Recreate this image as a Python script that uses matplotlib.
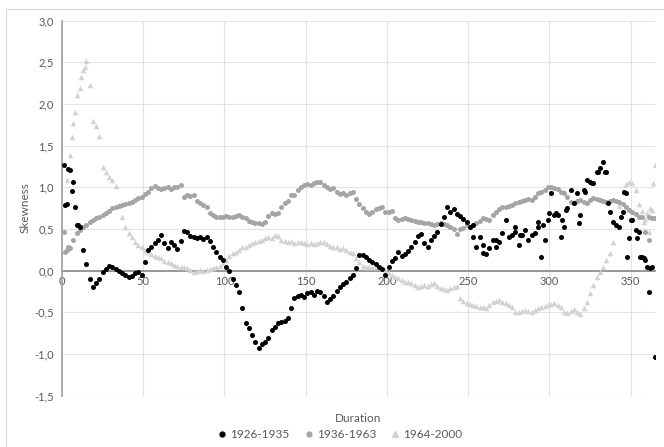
import matplotlib
matplotlib.use("Agg")
import matplotlib.pyplot as plt
from matplotlib.patches import Rectangle
from matplotlib.lines import Line2D

plt.rcParams['font.family'] = ['Lato', 'DejaVu Sans']

# ---------------- data ----------------
days = list(range(1, 366, 2))

s1926_1935 = [
    1.27, 0.80, 1.21, 1.07, 0.55, 0.52, 0.25, 0.08, -0.10, -0.20,
    -0.15, -0.10, -0.02, 0.02, 0.06, 0.05, 0.02, 0.00, -0.03, -0.05,
    -0.08, -0.06, -0.03, -0.01, -0.05, 0.10, 0.25, 0.29, 0.33, 0.37,
    0.43, 0.33, 0.27, 0.35, 0.31, 0.26, 0.36, 0.48, 0.46, 0.42,
    0.40, 0.39, 0.41, 0.38, 0.40, 0.36, 0.29, 0.22, 0.17, 0.13,
    0.05, 0.00, -0.10, -0.17, -0.25, -0.45, -0.63, -0.69, -0.77, -0.85,
    -0.93, -0.88, -0.85, -0.81, -0.71, -0.68, -0.63, -0.62, -0.60, -0.57,
    -0.45, -0.33, -0.30, -0.29, -0.31, -0.27, -0.26, -0.29, -0.24, -0.26,
    -0.30, -0.37, -0.34, -0.30, -0.24, -0.20, -0.16, -0.13, -0.09, -0.05,
    0.03, 0.19, 0.19, 0.16, 0.13, 0.10, 0.08, 0.05, 0.02, -0.05,
    0.05, 0.12, 0.15, 0.22, 0.18, 0.20, 0.24, 0.28, 0.35, 0.42,
    0.44, 0.33, 0.28, 0.37, 0.42, 0.47, 0.56, 0.65, 0.77, 0.70,
    0.74, 0.68, 0.66, 0.62, 0.58, 0.53, 0.40, 0.29, 0.41, 0.31,
    0.20, 0.27, 0.37, 0.29, 0.35, 0.45, 0.61, 0.41, 0.43, 0.53,
    0.31, 0.43, 0.49, 0.37, 0.43, 0.45, 0.59, 0.17, 0.37, 0.61,
    0.93, 0.67, 0.67, 0.41, 0.53, 0.75, 0.97, 0.81, 0.93, 0.67,
    0.97, 1.09, 1.07, 1.05, 1.19, 1.23, 1.31, 1.19, 0.71, 0.58,
    0.55, 0.53, 0.71, 0.93, 0.39, 0.61, 0.49, 0.47, 0.17, 0.13,
    -0.25, 0.05, -1.03,
]
extra_days_1926 = [2, 4, 6, 8, 10, 253, 259, 267, 279, 282, 293, 296, 300, 304,
                   308, 310, 318, 322, 326, 330, 334, 336, 344, 346, 348, 350,
                   354, 356, 358, 360, 362]
extra_vals_1926 = [0.79, 1.22, 0.96, 0.76, 0.55, 0.55, 0.21, 0.37, 0.47, 0.43,
                   0.53, 0.55, 0.69, 0.69, 0.61, 0.73, 0.57, 0.95, 1.05, 1.19,
                   1.19, 0.81, 0.65, 0.95, 0.17, 0.61, 0.39, 0.17, 0.15, 0.05,
                   0.03]

s1936_1963 = [
    0.47, 0.25, 0.27, 0.37, 0.45, 0.49, 0.53, 0.55, 0.58, 0.61,
    0.63, 0.65, 0.67, 0.69, 0.72, 0.75, 0.76, 0.78, 0.79, 0.80,
    0.81, 0.83, 0.85, 0.87, 0.89, 0.92, 0.95, 0.99, 1.02, 0.99,
    0.98, 0.99, 1.01, 0.98, 1.00, 1.01, 1.03, 0.89, 0.91, 0.90,
    0.91, 0.84, 0.81, 0.79, 0.77, 0.69, 0.67, 0.64, 0.65, 0.64,
    0.66, 0.64, 0.65, 0.66, 0.67, 0.64, 0.63, 0.60, 0.58, 0.57,
    0.57, 0.56, 0.59, 0.66, 0.69, 0.68, 0.69, 0.77, 0.81, 0.84,
    0.91, 0.91, 0.97, 1.00, 1.03, 1.04, 1.03, 1.05, 1.06, 1.07,
    1.03, 1.01, 0.98, 0.99, 0.95, 0.92, 0.93, 0.91, 0.93, 0.95,
    0.86, 0.80, 0.75, 0.70, 0.68, 0.71, 0.74, 0.75, 0.76, 0.71,
    0.71, 0.72, 0.63, 0.61, 0.62, 0.63, 0.62, 0.61, 0.60, 0.59,
    0.59, 0.57, 0.57, 0.56, 0.55, 0.56, 0.57, 0.56, 0.55, 0.53,
    0.50, 0.44, 0.50, 0.51, 0.55, 0.53, 0.55, 0.57, 0.60, 0.63,
    0.62, 0.61, 0.67, 0.70, 0.74, 0.76, 0.77, 0.78, 0.79, 0.81,
    0.83, 0.84, 0.85, 0.86, 0.85, 0.89, 0.93, 0.94, 0.97, 1.00,
    1.00, 0.99, 0.98, 0.95, 0.93, 0.88, 0.83, 0.81, 0.84, 0.85,
    0.82, 0.81, 0.85, 0.87, 0.86, 0.85, 0.84, 0.83, 0.84, 0.85,
    0.84, 0.83, 0.80, 0.77, 0.73, 0.71, 0.68, 0.65, 0.64, 0.47,
    0.65, 0.63, 0.63,
]
extra_days_1936 = [2, 4, 361]
extra_vals_1936 = [0.23, 0.29, 0.37]

s1964_2000 = [
    0.79, 1.09, 1.39, 1.77, 2.11, 2.19, 2.41, 2.52, 2.23, 1.80,
    1.74, 1.62, 1.25, 1.19, 1.13, 1.09, 1.02, 0.79, 0.64, 0.53,
    0.45, 0.40, 0.35, 0.31, 0.28, 0.25, 0.22, 0.20, 0.18, 0.16,
    0.15, 0.12, 0.11, 0.09, 0.07, 0.06, 0.05, 0.04, 0.03, 0.01,
    -0.01, 0.00, 0.01, 0.00, 0.01, 0.02, 0.03, 0.04, 0.06, 0.09,
    0.13, 0.18, 0.21, 0.23, 0.25, 0.28, 0.29, 0.31, 0.33, 0.35,
    0.36, 0.37, 0.39, 0.40, 0.39, 0.43, 0.42, 0.37, 0.36, 0.35,
    0.36, 0.33, 0.35, 0.34, 0.33, 0.32, 0.33, 0.32, 0.33, 0.35,
    0.34, 0.32, 0.30, 0.28, 0.28, 0.26, 0.27, 0.25, 0.23, 0.21,
    0.15, 0.10, 0.06, 0.04, 0.05, 0.05, 0.04, 0.05, 0.03, 0.01,
    -0.03, -0.05, -0.08, -0.09, -0.11, -0.13, -0.14, -0.15, -0.17, -0.19,
    -0.18, -0.17, -0.18, -0.16, -0.15, -0.18, -0.21, -0.22, -0.23, -0.21,
    -0.19, -0.18, -0.33, -0.36, -0.39, -0.40, -0.41, -0.42, -0.43, -0.44,
    -0.45, -0.41, -0.37, -0.36, -0.35, -0.37, -0.39, -0.41, -0.43, -0.50,
    -0.49, -0.48, -0.47, -0.48, -0.49, -0.47, -0.45, -0.44, -0.42, -0.41,
    -0.40, -0.39, -0.41, -0.43, -0.50, -0.51, -0.48, -0.46, -0.49, -0.52,
    -0.45, -0.38, -0.27, -0.17, -0.08, -0.02, 0.05, 0.13, 0.21, 0.35,
    0.55, 0.78, 0.95, 1.04, 1.07, 1.05, 0.97, 0.80, 0.72, 0.62,
    0.47, 0.73, 1.27,
]
extra_days_1964 = [6, 8, 12, 14, 358, 360, 362, 364]
extra_vals_1964 = [1.61, 1.91, 2.33, 2.45, 0.59, 0.69, 0.75, 1.05]

series_names = ["1926-1935", "1936-1963", "1964-2000"]
y_ticks = [-1.5, -1.0, -0.5, 0.0, 0.5, 1.0, 1.5, 2.0, 2.5, 3.0]
x_ticks = [0, 50, 100, 150, 200, 250, 300, 350]

# ---------------- figure ----------------
W, H = 664, 447
fig = plt.figure(figsize=(W / 100, H / 100), dpi=100)
ax = fig.add_axes([62 / W, 1 - 395.7 / H, (655 - 62) / W, (395.7 - 20.7) / H])

c_black, c_gray, c_light = "#000000", "#a5a5a5", "#d2d2d2"
tick_col = "#595959"

ax.scatter(days, s1964_2000, marker="^", s=16, color=c_light, linewidths=0, zorder=3)
ax.scatter(extra_days_1964, extra_vals_1964, marker="^", s=16, color=c_light, linewidths=0, zorder=3)
ax.scatter(days, s1936_1963, marker="o", s=13, color=c_gray, linewidths=0, zorder=4)
ax.scatter(extra_days_1936, extra_vals_1936, marker="o", s=13, color=c_gray, linewidths=0, zorder=4)
ax.scatter(days, s1926_1935, marker="o", s=13, color=c_black, linewidths=0, zorder=5)
ax.scatter(extra_days_1926, extra_vals_1926, marker="o", s=13, color=c_black, linewidths=0, zorder=5)

ax.set_xlim(0, 365)
ax.set_ylim(-1.5, 3.0)
ax.set_yticks(y_ticks)
ax.set_yticklabels([f"{v:.1f}".replace(".", ",") for v in y_ticks])
ax.set_xticks(x_ticks)
ax.set_xticklabels([str(v) for v in x_ticks])

ax.grid(True, color="#e3e3e3", linewidth=0.8, zorder=0)
ax.set_axisbelow(True)
for side in ("top", "right"):
    ax.spines[side].set_visible(False)
ax.spines["bottom"].set_position(("data", 0))
ax.spines["bottom"].set_color("#8f8f8f")
ax.spines["bottom"].set_linewidth(1.3)
ax.spines["bottom"].set_zorder(2)
ax.spines["left"].set_color("#a6a6a6")
ax.spines["left"].set_linewidth(1.3)
ax.tick_params(axis="both", length=0, labelsize=8, labelcolor=tick_col)
ax.tick_params(axis="x", pad=4)
ax.tick_params(axis="y", pad=6)

fig.text(25 / W, 1 - 208 / H, "Skewness", rotation=90, ha="center", va="center",
         fontsize=8.5, color=tick_col)
fig.text(358 / W, 1 - 418 / H, "Duration", ha="center", va="center",
         fontsize=8.5, color=tick_col)

handles = [
    Line2D([], [], linestyle="none", marker="o", markersize=3.5, color=c_black),
    Line2D([], [], linestyle="none", marker="o", markersize=3.5, color=c_gray),
    Line2D([], [], linestyle="none", marker="^", markersize=4.5, color=c_light),
]
leg = fig.legend(handles, series_names, loc="center", ncol=3,
                 bbox_to_anchor=(340 / W, 1 - 435 / H), frameon=False,
                 fontsize=8.5, handlelength=0.8, handletextpad=0.3,
                 columnspacing=1.2, labelcolor=tick_col)

fig.patches.append(Rectangle((5.5 / W, -0.01), 1.0, 1 - 9.3 / H + 0.01,
                             transform=fig.transFigure, fill=False,
                             edgecolor="#d9d9d9", linewidth=0.8))

fig.savefig("out.png", dpi=100)
